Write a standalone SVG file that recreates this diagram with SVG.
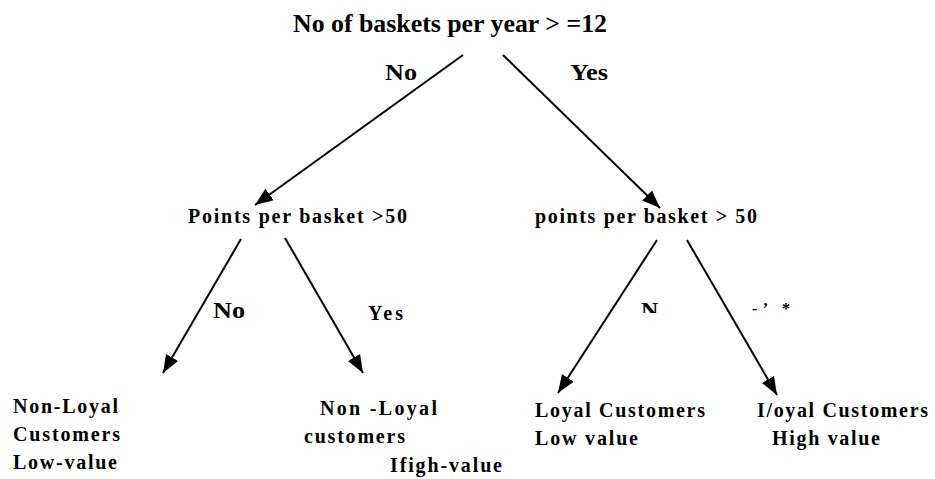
<svg xmlns="http://www.w3.org/2000/svg" width="935" height="479" viewBox="0 0 935 479">
<style>
text{font-family:"Liberation Serif","Times New Roman",serif;font-weight:bold;fill:#000}
.t{font-size:25px}
.q{font-size:20px}
.l{font-size:24px}
.f{font-size:20px}
.c line{stroke:#000;stroke-width:2;fill:none}
</style>
<defs>
<marker id="ah" markerUnits="userSpaceOnUse" markerWidth="20" markerHeight="20" viewBox="0 0 20 20" refX="18" refY="10" orient="auto">
<path d="M0,3 L18,10 L0,17 Z" fill="#000"/>
</marker>
<clipPath id="cp1"><rect x="630" y="303" width="40" height="10"/></clipPath>
</defs>
<rect width="935" height="479" fill="#fff"/>
<g id="root"><text class="t" x="293" y="32" textLength="314" lengthAdjust="spacingAndGlyphs">No of baskets per year &gt; =12</text></g>
<g id="q-left"><text class="q" x="188" y="223" textLength="219" lengthAdjust="spacing">Points per basket &gt;50</text></g>
<g id="q-right"><text class="q" x="535" y="223" textLength="222" lengthAdjust="spacing">points per basket &gt; 50</text></g>
<g id="leaf1">
<text class="f" x="13" y="413" textLength="105" lengthAdjust="spacing">Non-Loyal</text>
<text class="f" x="13" y="441" textLength="107" lengthAdjust="spacing">Customers</text>
<text class="f" x="13" y="469" textLength="104" lengthAdjust="spacing">Low-value</text>
</g>
<g id="leaf2">
<text class="f" x="320" y="415" textLength="117" lengthAdjust="spacing">Non -Loyal</text>
<text class="f" x="304" y="443" textLength="101" lengthAdjust="spacing">customers</text>
<text class="f" x="390" y="472" textLength="112" lengthAdjust="spacing">Ifigh-value</text>
</g>
<g id="leaf3">
<text class="f" x="535" y="417" textLength="170" lengthAdjust="spacing">Loyal Customers</text>
<text class="f" x="535" y="445" textLength="103" lengthAdjust="spacing">Low value</text>
</g>
<g id="leaf4">
<text class="f" x="757" y="417" textLength="171" lengthAdjust="spacing">I/oyal Customers</text>
<text class="f" x="772" y="445" textLength="108" lengthAdjust="spacing">High value</text>
</g>
<g class="c" id="connectors">
<line x1="463" y1="55" x2="255" y2="205" marker-end="url(#ah)"/>
<line x1="503" y1="55" x2="660" y2="208" marker-end="url(#ah)"/>
<line x1="241" y1="239" x2="163" y2="373" marker-end="url(#ah)"/>
<line x1="285" y1="238" x2="363" y2="373" marker-end="url(#ah)"/>
<line x1="657" y1="240" x2="558" y2="393" marker-end="url(#ah)"/>
<line x1="687" y1="240" x2="777" y2="395" marker-end="url(#ah)"/>
</g>
<g id="labels">
<text class="l" x="385" y="80" textLength="32" lengthAdjust="spacingAndGlyphs">No</text>
<text class="l" x="570" y="80" textLength="38" lengthAdjust="spacingAndGlyphs">Yes</text>
<text class="l" x="213" y="318" textLength="32" lengthAdjust="spacingAndGlyphs">No</text>
<text class="q" x="368" y="320" textLength="35" lengthAdjust="spacing">Yes</text>
<text class="l" x="641" y="318" clip-path="url(#cp1)">N</text>
<text x="752" y="314" style="font-size:16px" textLength="38" lengthAdjust="spacing">-’ *</text>
</g>
</svg>
